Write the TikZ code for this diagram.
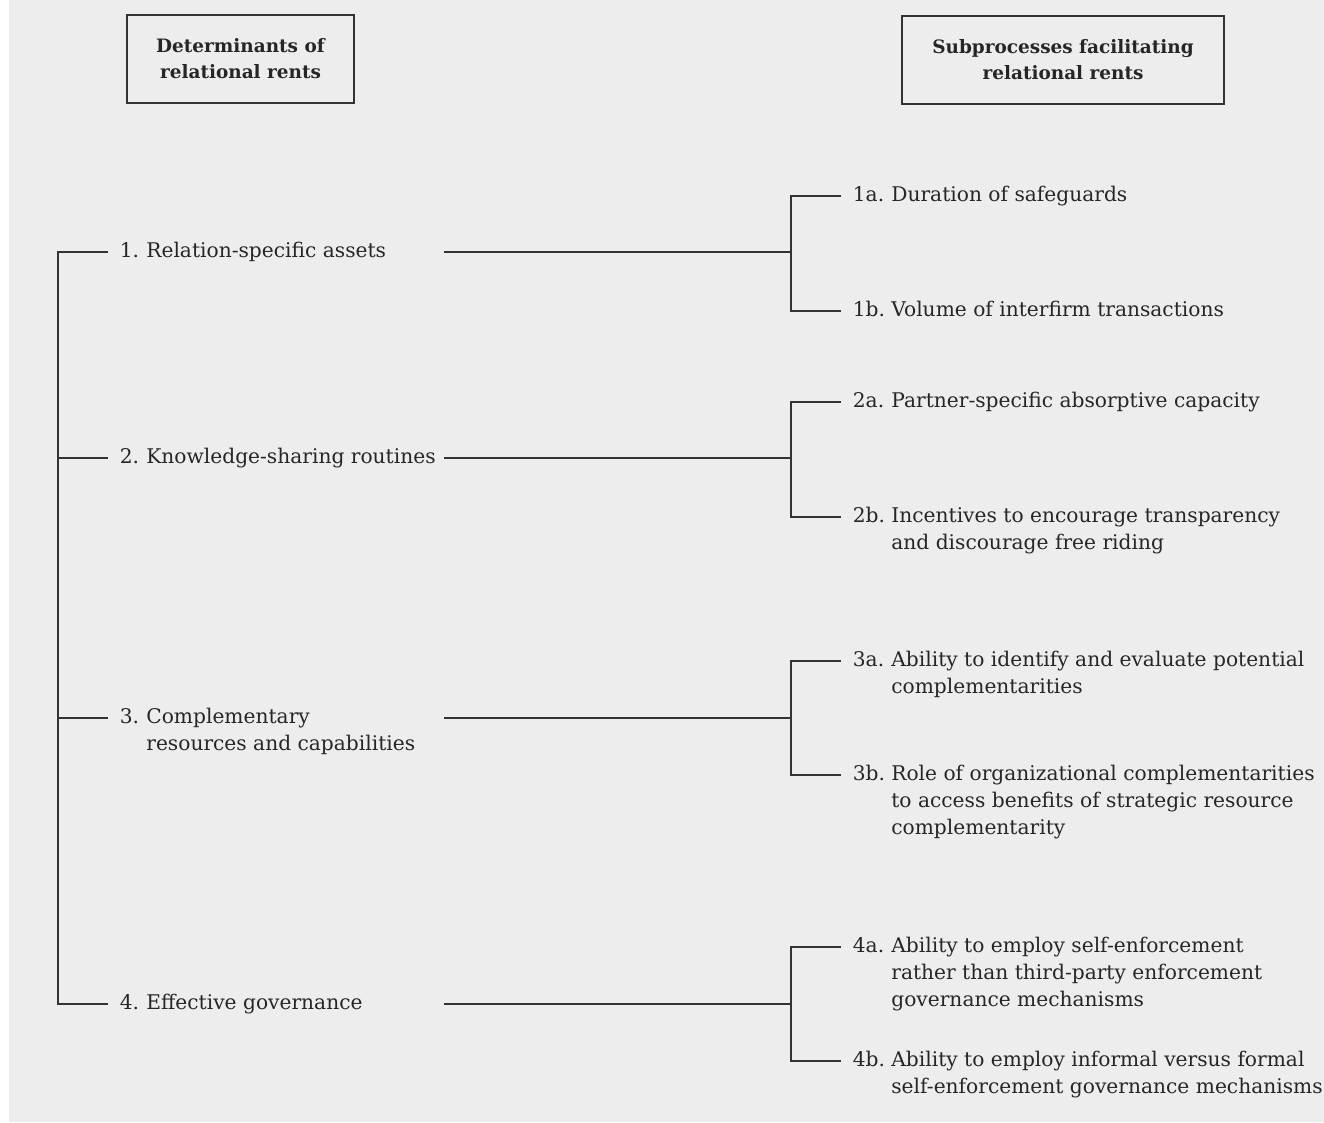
\documentclass[tikz,border=0pt]{standalone}
\usepackage{fontspec}
\setmainfont{DejaVu Serif}
\usetikzlibrary{positioning}

\begin{document}
\begin{tikzpicture}[x=0.02cm, y=-0.02cm,
    bar/.style={line width=0.9pt, black!80},
    headbox/.style={draw=black!80, line width=0.9pt, align=center, text=black!85,
      font=\fontsize{10.5pt}{14.7pt}\selectfont\bfseries, minimum height=1.76cm},
    num/.style={anchor=west, inner xsep=0.23cm, inner ysep=0pt, text=black!85,
      font=\fontsize{11.5pt}{15.4pt}\selectfont},
    txt/.style={anchor=north west, align=left, inner sep=0pt, text=black!85,
      font=\fontsize{11.5pt}{15.4pt}\selectfont}]

    % Page
    \useasboundingbox (0,0) rectangle (1324,1122);
    \fill[black!7] (9,0) rectangle (1324,1122);

    % Headers
    \node[headbox, minimum width=4.54cm] (hdet) at (240.5,59) {Determinants of\\relational rents};
    \node[headbox, minimum width=6.44cm] (hsub) at (1063,60) {Subprocesses facilitating\\relational rents};

    % Determinants
    \coordinate (sp) at (58,0);
    \node[num] (n1) at (108,252) {1.\strut};
    \node[txt] (d1) at (n1.north -| 146,0) {\strut Relation-specific assets};
    \node[num] (n2) at (108,458) {2.\strut};
    \node[txt] (d2) at (n2.north -| 146,0) {\strut Knowledge-sharing routines};
    \node[num] (n3) at (108,718) {3.\strut};
    \node[txt] (d3) at (n3.north -| 146,0) {\strut Complementary\\resources and capabilities};
    \node[num] (n4) at (108,1004) {4.\strut};
    \node[txt] (d4) at (n4.north -| 146,0) {\strut Effective governance};

    % Subprocesses
    \coordinate (jx) at (791,0);
    \node[num] (a1) at (841,196) {1a.\strut};
    \node[txt] (s1a) at (a1.north -| 891,0) {\strut Duration of safeguards};
    \node[num] (b1) at (841,311) {1b.\strut};
    \node[txt] (s1b) at (b1.north -| 891,0) {\strut Volume of interfirm transactions};
    \node[num] (a2) at (841,402) {2a.\strut};
    \node[txt] (s2a) at (a2.north -| 891,0) {\strut Partner-specific absorptive capacity};
    \node[num] (b2) at (841,517) {2b.\strut};
    \node[txt] (s2b) at (b2.north -| 891,0) {\strut Incentives to encourage transparency\\and discourage free riding};
    \node[num] (a3) at (841,661) {3a.\strut};
    \node[txt] (s3a) at (a3.north -| 891,0) {\strut Ability to identify and evaluate potential\\complementarities};
    \node[num] (b3) at (841,775) {3b.\strut};
    \node[txt] (s3b) at (b3.north -| 891,0) {\strut Role of organizational complementarities\\to access benefits of strategic resource\\complementarity};
    \node[num] (a4) at (841,947) {4a.\strut};
    \node[txt] (s4a) at (a4.north -| 891,0) {\strut Ability to employ self-enforcement\\rather than third-party enforcement\\governance mechanisms};
    \node[num] (b4) at (841,1061) {4b.\strut};
    \node[txt] (s4b) at (b4.north -| 891,0) {\strut Ability to employ informal versus formal\\self-enforcement governance mechanisms};

    % Left bracket
    \draw[bar] (n1.west) -- (n1.west -| sp) -- (n4.west -| sp) -- (n4.west);
    \draw[bar] (n2.west) -- (n2.west -| sp);
    \draw[bar] (n3.west) -- (n3.west -| sp);

    % Links to subprocesses
    \coordinate (m1) at (444,252);
    \coordinate (m2) at (444,458);
    \coordinate (m3) at (444,718);
    \coordinate (m4) at (444,1004);
    \foreach \g in {1,...,4} {
      \draw[bar] (m\g) -- (m\g -| jx);
      \draw[bar] (a\g.west) -- (a\g.west -| jx) -- (b\g.west -| jx) -- (b\g.west);
    }

\end{tikzpicture}
\end{document}
